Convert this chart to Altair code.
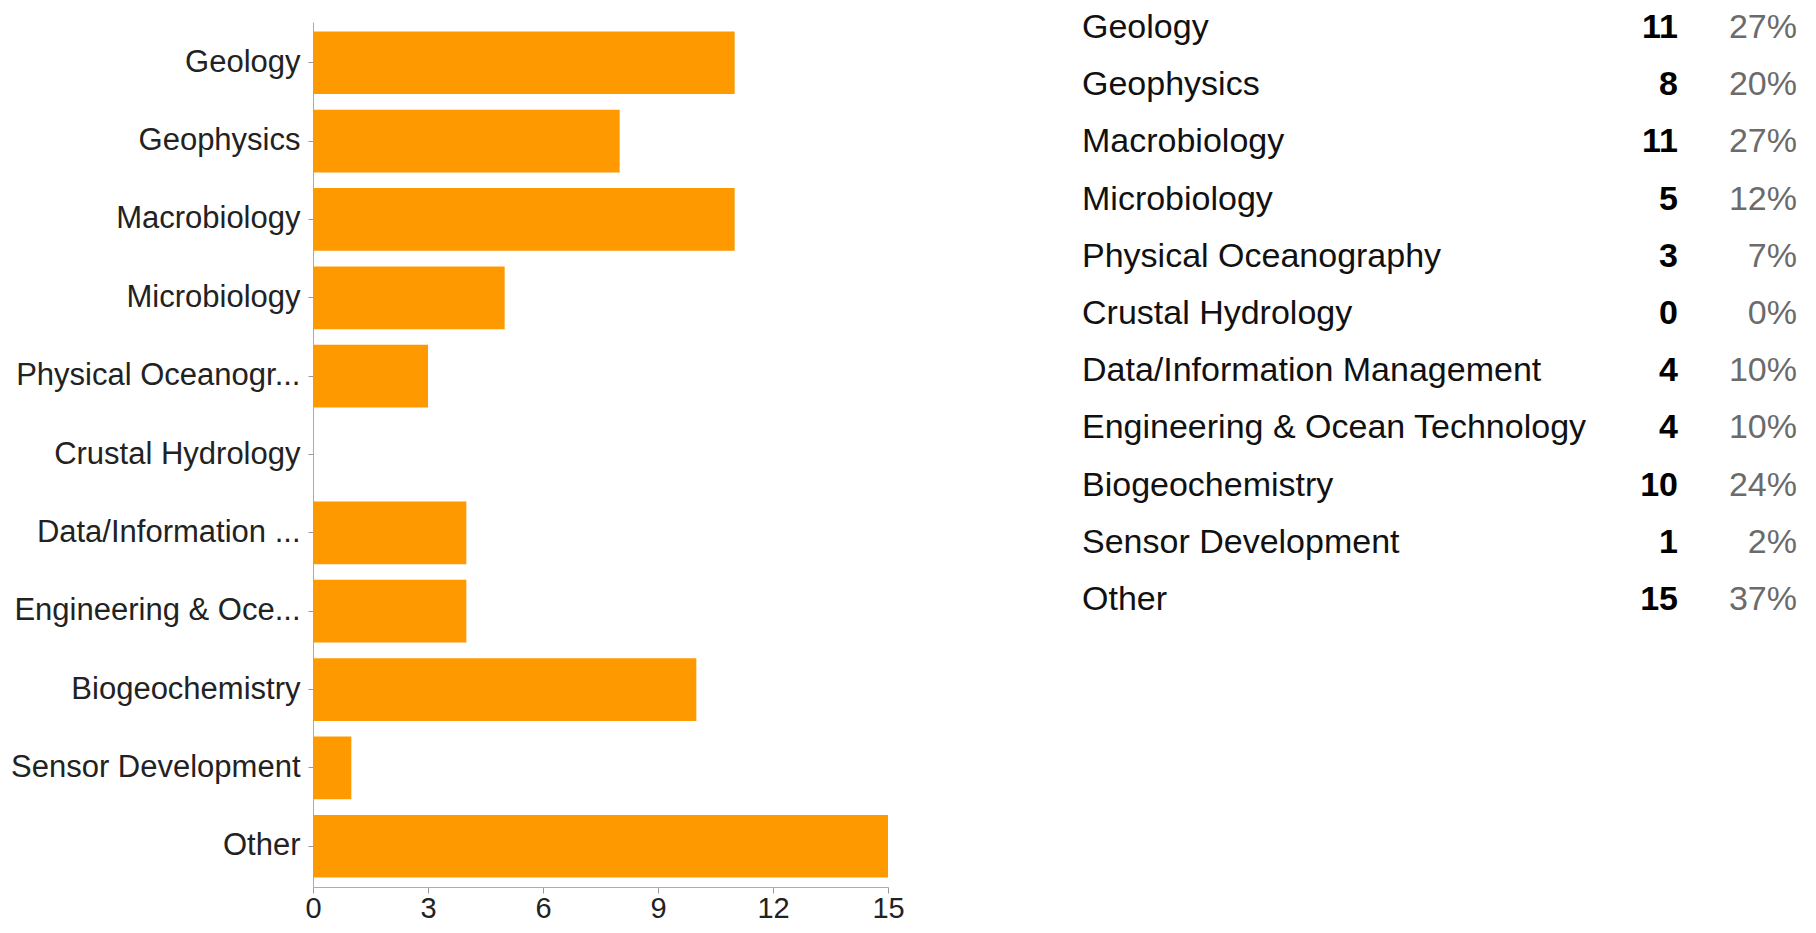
import altair as alt
import pandas as pd

categories = [
    "Geology", "Geophysics", "Macrobiology", "Microbiology",
    "Physical Oceanography", "Crustal Hydrology",
    "Data/Information Management", "Engineering & Ocean Technology",
    "Biogeochemistry", "Sensor Development", "Other",
]
axis_labels = [
    "Geology", "Geophysics", "Macrobiology", "Microbiology",
    "Physical Oceanogr...", "Crustal Hydrology",
    "Data/Information ...", "Engineering & Oce...",
    "Biogeochemistry", "Sensor Development", "Other",
]
counts = [11, 8, 11, 5, 3, 0, 4, 4, 10, 1, 15]
percents = [27, 20, 27, 12, 7, 0, 10, 10, 24, 2, 37]
x_ticks = [0, 3, 6, 9, 12, 15]

df = pd.DataFrame({
    "category": categories,
    "label": axis_labels,
    "count": counts,
    "pct": [f"{p}%" for p in percents],
})

FONT = "Liberation Sans"

bars = alt.Chart(df).mark_bar(color="#FF9900").encode(
    x=alt.X(
        "count:Q",
        scale=alt.Scale(domain=[0, 15], nice=False),
        axis=alt.Axis(
            values=x_ticks, grid=False, title=None, labelFontSize=29,
            labelFont=FONT, labelColor="#222222", domainColor="#a9adb3",
            tickColor="#9a9a9a", tickSize=6, labelPadding=1, labelFlush=False,
        ),
    ),
    y=alt.Y(
        "label:N",
        sort=axis_labels,
        scale=alt.Scale(paddingInner=0.2, paddingOuter=0.12),
        axis=alt.Axis(
            title=None, labelFontSize=31, labelFont=FONT, labelColor="#222222",
            domainColor="#a9adb3", tickColor="#9a9a9a", tickSize=5,
            labelPadding=8, labelLimit=500,
        ),
    ),
)

ty = alt.Y(
    "category:N",
    sort=categories,
    scale=alt.Scale(type="point", range=[6, 578], padding=0),
    axis=None,
)

names = alt.Chart(df).mark_text(
    align="left", baseline="middle", fontSize=34, font=FONT, color="#111111"
).encode(x=alt.value(769), y=ty, text="category:N")

cnt = alt.Chart(df).mark_text(
    align="right", baseline="middle", fontSize=34, font=FONT,
    fontWeight="bold", color="#000000"
).encode(x=alt.value(1365), y=ty, text="count:Q")

pct = alt.Chart(df).mark_text(
    align="right", baseline="middle", fontSize=34, font=FONT, color="#6b6b6b"
).encode(x=alt.value(1484), y=ty, text="pct:N")

table = alt.layer(names, cnt, pct)

chart = alt.layer(bars, table).resolve_scale(y="independent").properties(
    width=575,
    height=865,
    autosize=alt.AutoSizeParams(type="none"),
    padding={"left": 305, "top": 14, "right": 920, "bottom": 44},
).configure_view(stroke=None)

chart.save("out.html", embed_options={"renderer": "svg", "actions": False})
